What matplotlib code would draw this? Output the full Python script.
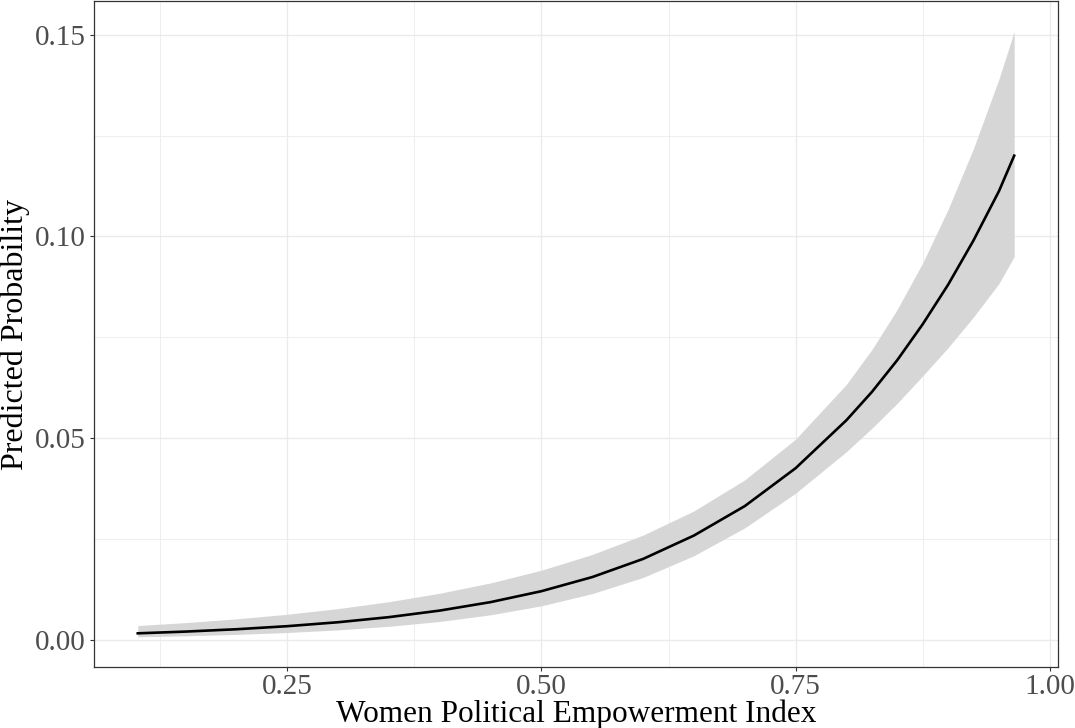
import matplotlib

matplotlib.use("Agg")
import matplotlib.pyplot as plt
from matplotlib.ticker import FixedLocator, FormatStrFormatter

# predicted probability and 95% band
wpe_index = [0.103, 0.15, 0.20, 0.25, 0.30, 0.35, 0.40, 0.45, 0.50, 0.55, 0.60,
             0.65, 0.70, 0.75, 0.80, 0.825, 0.85, 0.875, 0.90, 0.925, 0.95, 0.965]
pred = [0.00155, 0.00198, 0.00256, 0.00332, 0.00430, 0.00556, 0.00719, 0.00929,
        0.0120, 0.0155, 0.0200, 0.0258, 0.0331, 0.0425, 0.0544, 0.0614, 0.0693,
        0.0782, 0.0880, 0.0990, 0.1112, 0.1200]
upper = [0.00348, 0.00420, 0.00514, 0.00628, 0.00768, 0.00939, 0.01149, 0.01405,
         0.0172, 0.0211, 0.0259, 0.0319, 0.0396, 0.0497, 0.0633, 0.0719, 0.0819,
         0.0934, 0.1067, 0.1218, 0.1390, 0.1508]
lower = [0.00069, 0.00093, 0.00128, 0.00175, 0.00240, 0.00329, 0.00449, 0.00614,
         0.00837, 0.0114, 0.0154, 0.0208, 0.0277, 0.0363, 0.0466, 0.0524, 0.0586,
         0.0654, 0.0724, 0.0800, 0.0883, 0.0950]

x_ticks = [0.25, 0.50, 0.75, 1.00]
y_ticks = [0.00, 0.05, 0.10, 0.15]

plt.rcParams["font.family"] = ["Liberation Serif", "DejaVu Serif"]

fig = plt.figure(figsize=(10.75, 7.28), dpi=100)
ax = fig.add_axes([0.0874, 0.0838, 0.8968, 0.9145])

ax.fill_between(wpe_index, lower, upper, color="#d6d6d6", linewidth=0, zorder=2)
ax.plot(wpe_index, pred, color="black", linewidth=1.9, zorder=3)

ax.set_xlim(0.0599, 1.0081)
ax.set_ylim(-0.0068, 0.1583)

ax.xaxis.set_major_locator(FixedLocator(x_ticks))
ax.yaxis.set_major_locator(FixedLocator(y_ticks))
ax.xaxis.set_minor_locator(FixedLocator([0.125, 0.375, 0.625, 0.875]))
ax.yaxis.set_minor_locator(FixedLocator([0.025, 0.075, 0.125]))
ax.xaxis.set_major_formatter(FormatStrFormatter("%.2f"))
ax.yaxis.set_major_formatter(FormatStrFormatter("%.2f"))

ax.grid(which="major", color="#ebebeb", linewidth=1.0, zorder=0)
ax.grid(which="minor", color="#ebebeb", linewidth=0.6, zorder=0)
ax.set_axisbelow(True)

ax.tick_params(which="major", length=3, width=0.8, color="#333333",
               labelsize=21, labelcolor="#4d4d4d", pad=3)
ax.tick_params(axis="x", pad=2)
ax.tick_params(which="minor", length=0)
for s in ax.spines.values():
    s.set_color("#333333")
    s.set_linewidth(0.9)

ax.set_xlabel("Women Political Empowerment Index", fontsize=22.5, va="baseline")
ax.xaxis.set_label_coords(0.5, -0.0830)
ax.set_ylabel("Predicted Probability", fontsize=23, labelpad=3)

fig.savefig("out.png", dpi=100)
